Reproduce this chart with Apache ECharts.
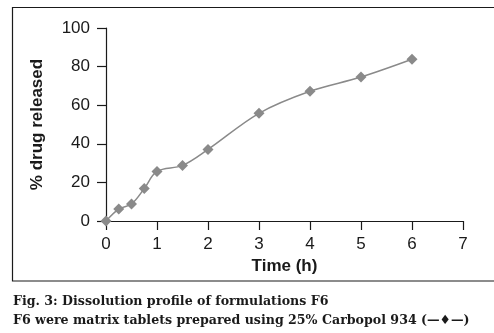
<!DOCTYPE html>
<html>
<head>
<meta charset="utf-8">
<script src="https://cdn.jsdelivr.net/npm/echarts@6/dist/echarts.min.js"></script>
<style>html,body{margin:0;padding:0;background:#fff;}#c{width:494px;height:333px;}</style>
</head>
<body>
<div id="c"></div>
<script>
const timeH = [0, 0.25, 0.5, 0.75, 1, 1.5, 2, 3, 4, 5, 6];
const released = [0, 6.2, 8.8, 16.8, 25.7, 28.8, 37.1, 55.8, 67.2, 74.6, 83.8];
const xTicks = [0, 1, 2, 3, 4, 5, 6, 7];
const yTicks = [0, 20, 40, 60, 80, 100];
const xTitle = 'Time (h)';
const yTitle = '% drug released';
const caption1 = 'Fig. 3: Dissolution profile of formulations F6';
const caption2 = 'F6 were matrix tablets prepared using 25% Carbopol 934 (—♦—)';

const chart = echarts.init(document.getElementById('c'));
const axisCol = '#1a1a1a';
chart.setOption({
  animation: false,
  grid: { left: 106, right: 31, top: 28, bottom: 112, containLabel: false },
  xAxis: {
    type: 'value', min: xTicks[0], max: xTicks[xTicks.length - 1], interval: 1,
    axisLine: { show: true, lineStyle: { color: axisCol, width: 1.2 } },
    axisTick: { show: true, length: 9, lineStyle: { color: axisCol, width: 1.2 } },
    axisLabel: { fontFamily: 'Liberation Sans', fontSize: 17, color: '#1a1a1a', margin: 15 },
    splitLine: { show: false },
    name: xTitle, nameLocation: 'middle', nameGap: 37,
    nameTextStyle: { fontFamily: 'Liberation Sans', fontSize: 17, fontWeight: 'bold', color: '#1a1a1a' }
  },
  yAxis: {
    type: 'value', min: yTicks[0], max: yTicks[yTicks.length - 1], interval: 20,
    axisLine: { show: true, lineStyle: { color: axisCol, width: 1.2 } },
    axisTick: { show: true, length: 9, lineStyle: { color: axisCol, width: 1.2 } },
    axisLabel: { fontFamily: 'Liberation Sans', fontSize: 17, color: '#1a1a1a', margin: 16 },
    splitLine: { show: false },
    name: yTitle, nameLocation: 'middle', nameGap: 60, nameRotate: 90,
    nameTextStyle: { fontFamily: 'Liberation Sans', fontSize: 17, fontWeight: 'bold', color: '#1a1a1a' }
  },
  series: [{
    type: 'line',
    data: timeH.map((t, i) => [t, released[i]]),
    smooth: 0.35,
    symbol: 'diamond', symbolSize: 11,
    lineStyle: { color: '#8a8a8a', width: 1.5 },
    itemStyle: { color: '#8a8a8a' }
  }],
  graphic: [
    { type: 'rect', shape: { x: 12.5, y: 7.5, width: 490, height: 273.5 },
      style: { fill: 'none', stroke: '#1a1a1a', lineWidth: 1.2 }, silent: true },
    { type: 'text', left: 13, top: 295,
      style: { text: caption1, font: 'bold 12.6px "DejaVu Serif"', fill: '#1a1a1a' } },
    { type: 'text', left: 13, top: 314,
      style: { text: caption2, font: 'bold 12.6px "DejaVu Serif"', fill: '#1a1a1a' } }
  ]
});
</script>
</body>
</html>
